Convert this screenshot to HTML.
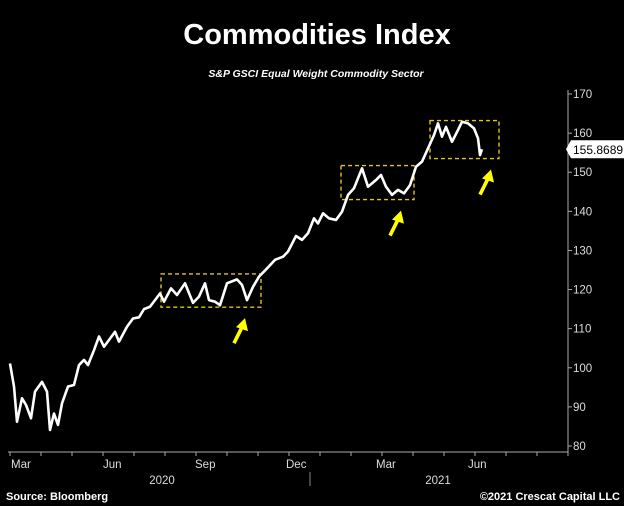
<!DOCTYPE html>
<html><head><meta charset="utf-8"><style>
html,body{margin:0;padding:0;background:#000;}
svg{display:block;font-family:"Liberation Sans",sans-serif;}
</style></head><body>
<svg id="chart" width="624" height="506" viewBox="0 0 624 506">
<rect width="624" height="506" fill="#000"/>
<text x="317" y="44" text-anchor="middle" fill="#fff" font-size="29" font-weight="bold">Commodities Index</text>
<text x="316" y="77" text-anchor="middle" fill="#fff" font-size="10.5" font-weight="bold" font-style="italic">S&amp;P GSCI Equal Weight Commodity Sector</text>
<text x="6" y="500" fill="#fff" font-size="11" font-weight="bold">Source: Bloomberg</text>
<text x="620" y="500" text-anchor="end" fill="#fff" font-size="11" font-weight="bold">©2021 Crescat Capital LLC</text>
<g id="axes"></g>
<g id="marks"></g>
</svg>
<script>
const days=[0,4,7,12,16,21,25,32,37,40,44,48,52,58,64,69,74,78,84,89,94,99,105,109,117,123,129,134,140,145,150,154,161,167,175,183,189,195,199,205,210,217,227,232,237,243,249,257,265,273,278,286,292,298,304,308,313,319,326,332,338,344,352,358,366,371,376,382,388,394,400,406,412,418,424,428,432,436,442,448,452,458,464,468,470,472];
const values=[101.1,95.2,86.2,92.2,90.5,87.1,93.9,96.4,93.9,84.1,88.3,85.4,90.9,95.2,95.6,100.7,102,100.7,104.5,108,105.4,107.1,109.2,106.7,110.5,112.6,112.9,115,115.6,117.3,119,116.9,120.3,118.6,121.6,116.6,118.2,121.6,117.3,116.9,116,121.6,122.6,121.2,117.3,120.7,123.3,125.4,127.6,128.4,129.7,133.7,132.7,134.4,138.2,136.9,139.5,138.2,137.8,139.9,144.2,145.9,151,146.3,148,149.3,146.3,144.2,145.5,144.6,146.7,151.4,152.7,156.1,159.5,162.5,159.1,161.6,157.8,160.8,162.9,162.5,161.2,158.7,154.4,155.87];
const yTicks=[80,90,100,110,120,130,140,150,160,170];
const monthLabels=["Mar","Jun","Sep","Dec","Mar","Jun"];
const monthLabelDays=[0,92,184,275,365,457];
const yearLabels=["2020","2021"];
const yearLabelDays=[152,428];
const lastValue=155.8689;
const boxStartDays=[151,331,420];
const boxEndDays=[251,404,489];
const boxLow=[115.5,143,153.5];
const boxHigh=[124,151.7,163.2];

const NS="http://www.w3.org/2000/svg";
const xs=d=>10+d;
const ys=v=>446-(v-80)*3.911;
const axes=document.getElementById('axes'),marks=document.getElementById('marks');
function mk(tag,attrs,parent){const e=document.createElementNS(NS,tag);for(const k in attrs)e.setAttribute(k,attrs[k]);parent.appendChild(e);return e;}
let l=mk('line',{x1:568,y1:90,x2:568,y2:452,stroke:'#aaa','stroke-width':1},axes);


l=mk('line',{x1:8,y1:452,x2:568,y2:452,stroke:'#aaa','stroke-width':1},axes);


yTicks.forEach(v=>{
  const t=mk('line',{x1:568,x2:572,y1:ys(v),y2:ys(v),stroke:'#aaa'},axes);
  
  
  const tx=mk('text',{x:573,y:ys(v)+4,fill:'#ddd','font-size':11.5},axes);tx.textContent=v;
  
  
});
for(let d=0;d<=560;d+=31){
  const t=mk('line',{x1:xs(d),x2:xs(d),y1:452,y2:456,stroke:'#aaa'},axes);
  
  
}
monthLabels.forEach((m,i)=>{
  const tx=mk('text',{x:xs(monthLabelDays[i])+1,y:468,fill:'#ddd','font-size':11.5},axes);tx.textContent=m;
  
  
});
yearLabels.forEach((y,i)=>{
  const tx=mk('text',{x:xs(yearLabelDays[i]),y:484,fill:'#ddd','font-size':11.5,'text-anchor':'middle'},axes);tx.textContent=y;
  
  
});
l=mk('line',{x1:310,x2:310,y1:472,y2:486,stroke:'#888'},axes);


boxStartDays.forEach((s,i)=>{
  const r=mk('rect',{x:xs(s),y:ys(boxHigh[i]),width:xs(boxEndDays[i])-xs(s),height:ys(boxLow[i])-ys(boxHigh[i]),fill:'none',stroke:'#dcc81c','stroke-width':1.4,'stroke-dasharray':'4 3'},marks);
  
  
  const ax=xs(boxEndDays[i])-(i==0?17:(i==1?14:9)), ay=ys(boxLow[i])+14;
  const a=mk('g',{},marks);
  
  
  mk('line',{x1:ax-10,y1:ay+22,x2:ax-1,y2:ay+4,stroke:'#ffff00','stroke-width':3.6},a);
  mk('polygon',{points:`${ax+1},${ay-3} ${ax-8},${ay+6} ${ax+4},${ay+10}`,fill:'#ffff00'},a);
});
const p=mk('polyline',{points:days.map((d,i)=>xs(d)+','+ys(values[i])).join(' '),fill:'none',stroke:'#fff','stroke-width':2.6,'stroke-linejoin':'round'},marks);


const g=mk('g',{},marks);


const ly=ys(lastValue);
mk('polygon',{points:`566,${ly} 571,${ly-9} 624,${ly-9} 624,${ly+9} 571,${ly+9}`,fill:'#fff'},g);
const lt=mk('text',{x:573,y:ly+4.5,fill:'#000','font-size':12},g);lt.textContent=lastValue.toFixed(4);
</script>
</body></html>
